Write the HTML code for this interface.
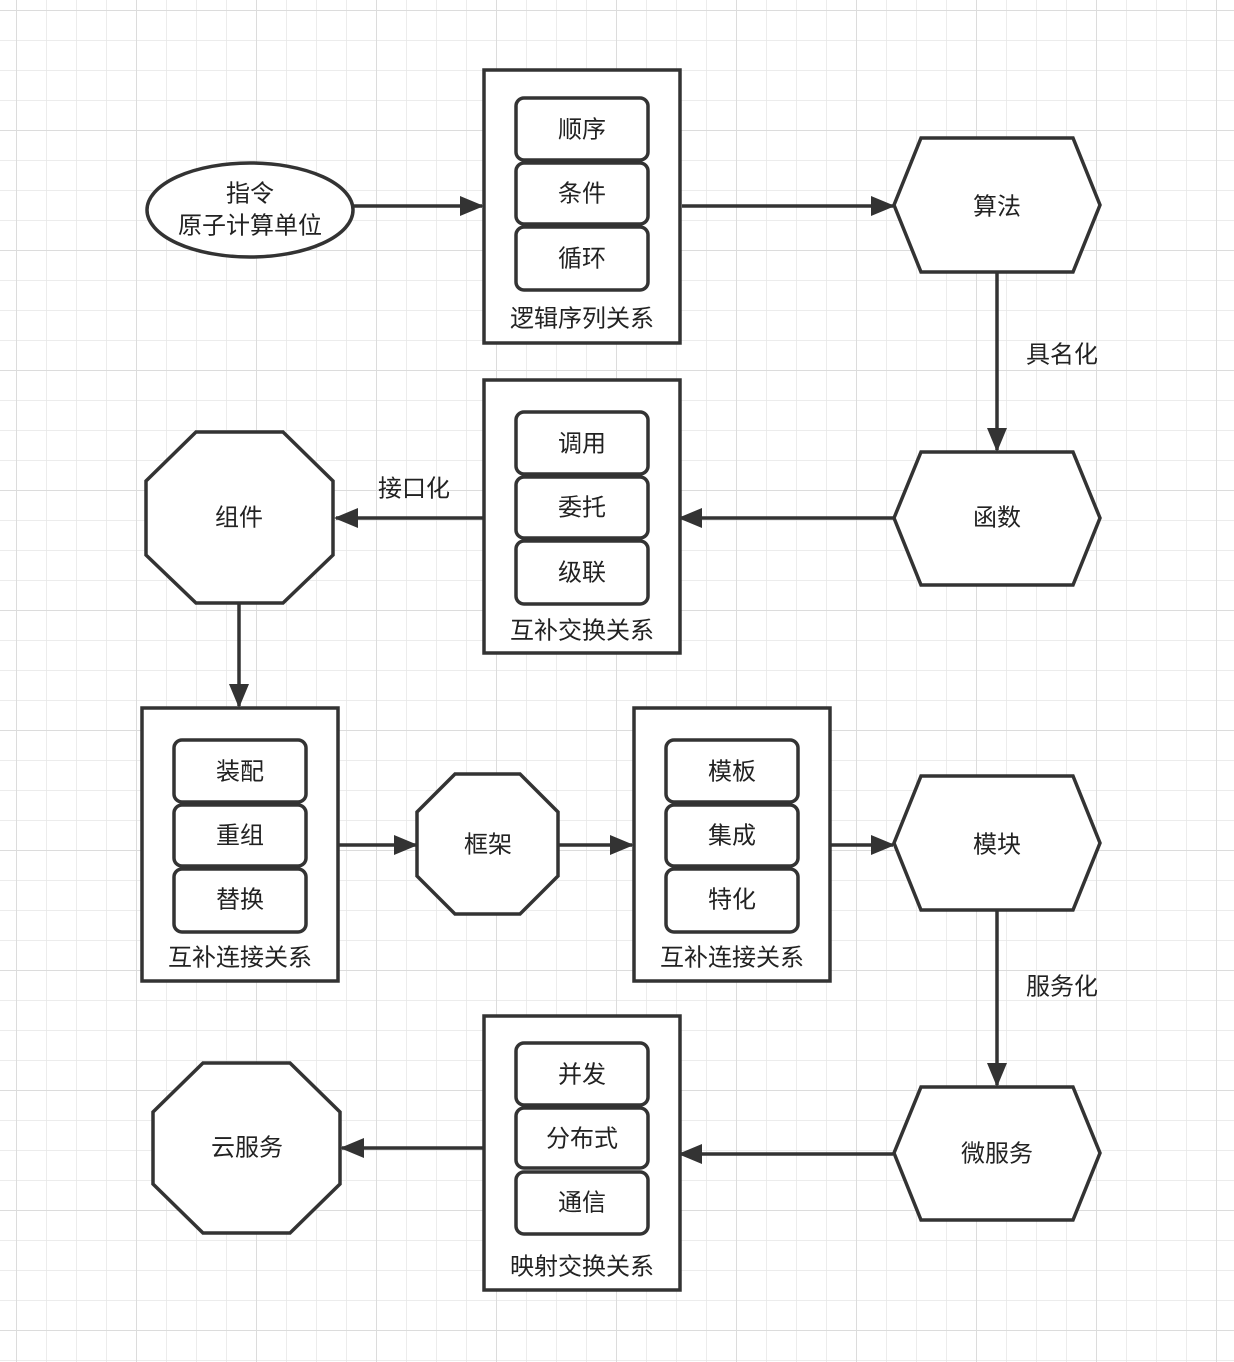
<!DOCTYPE html>
<html><head><meta charset="utf-8"><style>
html,body{margin:0;padding:0;background:#fff}
svg{display:block}
text{font-family:"Liberation Sans","Noto Sans CJK SC",sans-serif;font-size:24px;fill:#222;text-anchor:middle;dominant-baseline:central}
</style></head><body>
<svg width="1234" height="1362" viewBox="0 0 1234 1362" xmlns="http://www.w3.org/2000/svg">
<defs>
<pattern id="g" x="16" y="10" width="30" height="30" patternUnits="userSpaceOnUse">
<path d="M0 0V30M0 0H30" stroke="#e6e6e6" stroke-width="1.5" fill="none"/>
</pattern>
<pattern id="G" x="16" y="10" width="120" height="120" patternUnits="userSpaceOnUse">
<path d="M0 0V120M0 0H120" stroke="#dcdcdc" stroke-width="2" fill="none"/>
</pattern>
<marker id="a" markerWidth="24" markerHeight="20" refX="22" refY="10" orient="auto" markerUnits="userSpaceOnUse">
<path d="M0 0L24 10L0 20Z" fill="#333"/>
</marker>
</defs>
<rect width="1234" height="1362" fill="url(#g)"/>
<rect width="1234" height="1362" fill="url(#G)"/>
<g stroke="#333" stroke-width="3.5" fill="#fff">
<!-- connectors -->
<g fill="none">
<line x1="354" y1="206" x2="482" y2="206" marker-end="url(#a)"/>
<line x1="682" y1="206" x2="893" y2="206" marker-end="url(#a)"/>
<line x1="997" y1="272" x2="997" y2="450" marker-end="url(#a)"/>
<line x1="893" y1="518" x2="680" y2="518" marker-end="url(#a)"/>
<line x1="484" y1="518" x2="336" y2="518" marker-end="url(#a)"/>
<line x1="239" y1="604" x2="239" y2="706" marker-end="url(#a)"/>
<line x1="338" y1="845" x2="416" y2="845" marker-end="url(#a)"/>
<line x1="558" y1="845" x2="632" y2="845" marker-end="url(#a)"/>
<line x1="830" y1="845" x2="893" y2="845" marker-end="url(#a)"/>
<line x1="997" y1="910" x2="997" y2="1085" marker-end="url(#a)"/>
<line x1="893" y1="1154" x2="680" y2="1154" marker-end="url(#a)"/>
<line x1="484" y1="1148" x2="342" y2="1148" marker-end="url(#a)"/>
</g>
<ellipse cx="250" cy="210" rx="103" ry="47"/>
<!-- containers -->
<rect x="484" y="70" width="196" height="273"/>
<rect x="516" y="98" width="132" height="62" rx="8"/>
<rect x="516" y="163" width="132" height="61" rx="8"/>
<rect x="516" y="227" width="132" height="63" rx="8"/>
<rect x="484" y="380" width="196" height="273"/>
<rect x="516" y="412" width="132" height="62" rx="8"/>
<rect x="516" y="477" width="132" height="61" rx="8"/>
<rect x="516" y="541" width="132" height="63" rx="8"/>
<rect x="142" y="708" width="196" height="273"/>
<rect x="174" y="740" width="132" height="62" rx="8"/>
<rect x="174" y="805" width="132" height="61" rx="8"/>
<rect x="174" y="869" width="132" height="63" rx="8"/>
<rect x="634" y="708" width="196" height="273"/>
<rect x="666" y="740" width="132" height="62" rx="8"/>
<rect x="666" y="805" width="132" height="61" rx="8"/>
<rect x="666" y="869" width="132" height="63" rx="8"/>
<rect x="484" y="1016" width="196" height="274"/>
<rect x="516" y="1043" width="132" height="62" rx="8"/>
<rect x="516" y="1108" width="132" height="60" rx="8"/>
<rect x="516" y="1172" width="132" height="62" rx="8"/>
<!-- hexagons -->
<polygon points="894,205 921,138 1073,138 1100,205 1073,272 921,272"/>
<polygon points="894,518 921,452 1073,452 1100,518 1073,585 921,585"/>
<polygon points="894,843 921,776 1073,776 1100,843 1073,910 921,910"/>
<polygon points="894,1153 921,1087 1073,1087 1100,1153 1073,1220 921,1220"/>
<!-- octagons -->
<polygon points="196,432 283,432 333,481 333,555 283,603 196,603 146,555 146,481"/>
<polygon points="455,774 520,774 558,812 558,876 520,914 455,914 417,876 417,812"/>
<polygon points="203,1063 290,1063 340,1112 340,1184 290,1233 203,1233 153,1184 153,1112"/>
</g>
<text x="250" y="194">指令</text>
<text x="250" y="226">原子计算单位</text>
<text x="582" y="130">顺序</text>
<text x="582" y="194">条件</text>
<text x="582" y="259">循环</text>
<text x="582" y="319">逻辑序列关系</text>
<text x="997" y="207">算法</text>
<text x="1062" y="355">具名化</text>
<text x="997" y="518">函数</text>
<text x="582" y="444">调用</text>
<text x="582" y="508">委托</text>
<text x="582" y="573">级联</text>
<text x="582" y="631">互补交换关系</text>
<text x="414" y="489">接口化</text>
<text x="239" y="518">组件</text>
<text x="240" y="772">装配</text>
<text x="240" y="836">重组</text>
<text x="240" y="900">替换</text>
<text x="240" y="958">互补连接关系</text>
<text x="488" y="845">框架</text>
<text x="732" y="772">模板</text>
<text x="732" y="836">集成</text>
<text x="732" y="900">特化</text>
<text x="732" y="958">互补连接关系</text>
<text x="997" y="845">模块</text>
<text x="1062" y="987">服务化</text>
<text x="997" y="1154">微服务</text>
<text x="582" y="1075">并发</text>
<text x="582" y="1139">分布式</text>
<text x="582" y="1203">通信</text>
<text x="582" y="1267">映射交换关系</text>
<text x="247" y="1148">云服务</text>
</svg>
</body></html>
